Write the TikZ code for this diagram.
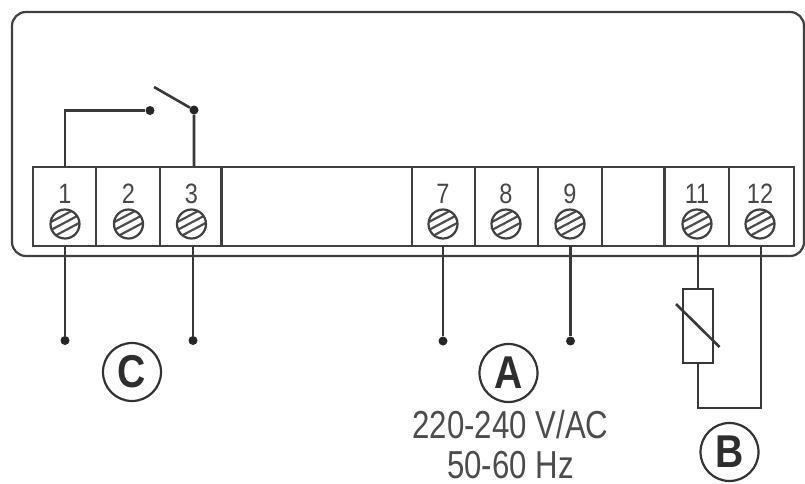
\documentclass[tikz,border=0pt]{standalone}
\usepackage{fontspec}
\setmainfont{Liberation Sans}
\tikzset{
  wire/.style={draw=black!78,line width=2.6pt},
  frameline/.style={draw=black!75,line width=2.2pt},
  thin wire/.style={draw=black!78,line width=2.3pt},
  dotn/.style={circle,fill=black!85,inner sep=0pt,minimum size=9pt},
  screwn/.style={circle,draw=black!75,line width=2.2pt,fill=white,minimum size=29pt,inner sep=0pt,
    path picture={\draw[black!70,line width=2.2pt]
      (path picture bounding box.center) ++(-16pt,1pt) -- ++(32pt,17pt)
      (path picture bounding box.center) ++(-16pt,-7pt) -- ++(32pt,17pt)
      (path picture bounding box.center) ++(-16pt,-15pt) -- ++(32pt,17pt);}},
  numn/.style={font=\fontsize{28}{28}\selectfont,text=black!72,inner sep=0pt,xscale=.84},
  letn/.style={circle,draw=black!80,line width=2.2pt,minimum size=58pt,inner sep=0pt,
     font=\fontsize{46}{46}\selectfont\bfseries,text=black!82},
  voltn/.style={font=\fontsize{39}{39}\selectfont,text=black!70,inner sep=0pt,xscale=.8}
}
\begin{document}
\begin{tikzpicture}[x=1pt,y=-1pt]
\useasboundingbox (0,0) rectangle (805,484);
% housing
\path[frameline,rounded corners=14pt] (12,12) rectangle (804,256);
% terminal strip
\node[draw=black!75,line width=2.2pt,minimum width=761pt,minimum height=79pt,inner sep=0pt,anchor=north west] (strip) at (32,166) {};
\foreach \x/\n in {96/a,160/b,221.5/c,412/d,475/e,538/f,602/g,664.5/h,729/i}{
  \coordinate (t\n) at (\x,166);
  \coordinate (u\n) at (\x,245);
  \draw[frameline] (t\n) -- (u\n);
}
% screws and numbers
\foreach \x/\n in {65/1,128.5/2,191.5/3,443/7,506/8,570/9,697/11,760/12}{
  \node[screwn] (s\n) at (\x,224) {};
  \node[numn] (l\n) at (\x,194) {\n};
}
% relay contact
\node[dotn] (d1) at (150,110.5) {};
\node[dotn] (d2) at (194,110) {};
\coordinate (sw) at (154,87);
\coordinate (top1) at (65,166);
\coordinate (top3) at (194,166);
\draw[wire] (top1) |- (d1);
\draw[wire] (top3) -- (d2) -- (sw);
% lower wires
\node[dotn] (e1) at (65,340.5) {};
\node[dotn] (e3) at (193,340.5) {};
\node[dotn] (e7) at (443,341) {};
\node[dotn] (e9) at (570.5,341) {};
\foreach \a/\b in {65/e1,193/e3,443/e7,570.5/e9}{
  \coordinate (b\b) at (\a,245);
  \draw[thin wire] (b\b) -- (\b);
}
% thermistor
\node[draw=black!78,line width=2.4pt,minimum width=30pt,minimum height=74pt,inner sep=0pt] (r) at (698,326) {};
\coordinate (p11) at (698,245);
\coordinate (p12) at (761,245);
\coordinate (c1) at (761,408);
\draw[thin wire] (p11) -- (r.north);
\draw[thin wire] (r.south) |- (c1) -- (p12);
\coordinate (ta) at (676,304);
\coordinate (tb) at (719.5,347);
\draw[wire] (ta) -- (tb);
% labels
\node[letn] (C) at (132,372) {\scalebox{.85}[1]{C}};
\node[letn] (A) at (508.5,373) {\scalebox{.85}[1]{A}};
\node[letn] (B) at (729.5,452) {\scalebox{.85}[1]{B}};
\node[voltn] (v1) at (510.5,425) {220-240 V/AC};
\node[voltn] (v2) at (510.5,465.5) {50-60 Hz};
\end{tikzpicture}
\end{document}
